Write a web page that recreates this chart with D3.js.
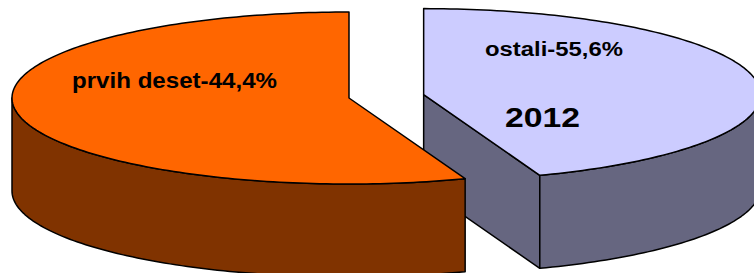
<!DOCTYPE html>
<html>
<head>
<meta charset="utf-8">
<script src="https://cdn.jsdelivr.net/npm/d3@7"></script>
<style>
  body { margin: 0; background: #fff; }
  svg { display: block; }
</style>
</head>
<body>
<script>
// wedges in drawing order, clockwise from 12 o'clock
const categories = ['ostali', 'prvih deset'];
// part of the circle each wedge covers in the picture
const shares = [44.4, 55.6];
const labels = ['ostali-55,6%', 'prvih deset-44,4%'];
const yearLabel = '2012';

const width = 754;
const height = 273;

const topColors = ['#ccccff', '#ff6600'];
const sideColors = ['#666680', '#803300'];
const explode = [0.225, 0];

// tilted pie: ellipse centre, radii and wall height
const cx = 349;
const cy = 98;
const rx = 337;
const ry = 86;
const depth = 93;

const x = d3.scaleLinear().domain([-1, 1]).range([cx - rx, cx + rx]);
const y = d3.scaleLinear().domain([-1, 1]).range([cy - ry, cy + ry]);

const pie = d3.pie()
  .sort(null)
  .startAngle(0)
  .endAngle(2 * Math.PI)
  .value(d => d.share);

const data = categories.map((c, i) => ({
  name: c, share: shares[i], label: labels[i], i,
}));

const svg = d3.select('body')
  .append('svg')
  .attr('width', width)
  .attr('height', height);

const line = d3.line();

function rim(a, o, dz) {
  return [x(o[0] + Math.sin(a)), y(o[1] - Math.cos(a)) + dz];
}

function arcPoints(a0, a1, o, dz) {
  const n = Math.max(2, Math.ceil((a1 - a0) / 0.02));
  return d3.range(n + 1).map(k => rim(a0 + (a1 - a0) * k / n, o, dz));
}

const arcs = pie(data);

arcs.forEach((d) => {
  const i = d.data.i;
  const a0 = d.startAngle;
  const a1 = d.endAngle;
  const mid = (a0 + a1) / 2;
  const o = [explode[i] * Math.sin(mid), -explode[i] * Math.cos(mid)];
  const c = [x(o[0]), y(o[1])];
  const g = svg.append('g')
    .attr('stroke', '#000')
    .attr('stroke-width', 1.5)
    .attr('stroke-linejoin', 'round');

  // radial walls that face the viewer
  if (Math.sin(a1) > 0.001) {
    const p = rim(a1, o, 0);
    g.append('path')
      .attr('d', `${line([c, p, [p[0], p[1] + depth], [c[0], c[1] + depth]])}Z`)
      .attr('fill', sideColors[i]);
  }
  if (Math.sin(a0) < -0.001) {
    const p = rim(a0, o, 0);
    g.append('path')
      .attr('d', `${line([c, p, [p[0], p[1] + depth], [c[0], c[1] + depth]])}Z`)
      .attr('fill', sideColors[i]);
  }

  // outer wall on the front half
  const lo = Math.max(a0, Math.PI / 2);
  const hi = Math.min(a1, 3 * Math.PI / 2);
  if (hi > lo) {
    const pts = arcPoints(lo, hi, o, 0).concat(arcPoints(lo, hi, o, depth).reverse());
    g.append('path')
      .attr('d', `${line(pts)}Z`)
      .attr('fill', sideColors[i]);
  }

  // top face
  g.append('path')
    .attr('d', `${line([c].concat(arcPoints(a0, a1, o, 0)))}Z`)
    .attr('fill', topColors[i]);
});

const font = "'Liberation Sans', Arial, sans-serif";

const labelPos = [
  { x: 485, y: 56, size: 20, len: 138 },
  { x: 72, y: 88, size: 22, len: 205 },
];

labels.forEach((t, i) => {
  svg.append('text')
    .attr('x', labelPos[i].x)
    .attr('y', labelPos[i].y)
    .attr('font-family', font)
    .attr('font-weight', 'bold')
    .attr('font-size', labelPos[i].size)
    .attr('textLength', labelPos[i].len)
    .attr('lengthAdjust', 'spacingAndGlyphs')
    .attr('fill', '#000')
    .text(t);
});

svg.append('text')
  .attr('x', 505)
  .attr('y', 127)
  .attr('font-family', font)
  .attr('font-weight', 'bold')
  .attr('font-size', 28)
  .attr('textLength', 75)
  .attr('lengthAdjust', 'spacingAndGlyphs')
  .attr('fill', '#000')
  .text(yearLabel);
</script>
</body>
</html>
